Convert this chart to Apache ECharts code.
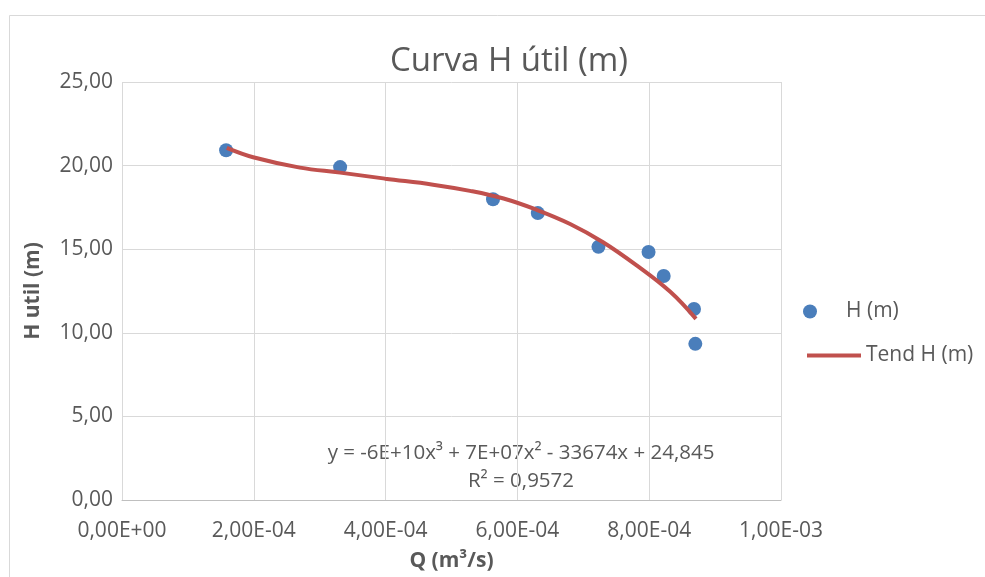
<!DOCTYPE html>
<html>
<head>
<meta charset="utf-8">
<script src="https://cdn.jsdelivr.net/npm/echarts@6/dist/echarts.min.js"></script>
<style>
  html, body { margin: 0; padding: 0; background: #ffffff; }
  #chart { width: 985px; height: 577px; }
</style>
</head>
<body>
<div id="chart"></div>
<script>
// Measured flow Q (m³/s) and useful head H (m)
const flowQ = [1.58e-4, 3.31e-4, 5.63e-4, 6.31e-4, 7.23e-4, 7.99e-4, 8.22e-4, 8.68e-4, 8.70e-4];
const headH = [20.92, 19.91, 17.99, 17.16, 15.14, 14.83, 13.40, 11.42, 9.34];

// Cubic trend line, sampled along the fitted curve
const trendQ = [1.59e-4, 1.99e-4, 2.70e-4, 3.31e-4, 3.99e-4, 4.72e-4, 5.28e-4, 5.79e-4, 6.29e-4, 6.80e-4, 7.30e-4, 7.81e-4, 8.32e-4, 8.71e-4];
const trendH = [21.06, 20.50, 19.88, 19.58, 19.22, 18.86, 18.49, 18.03, 17.36, 16.51, 15.42, 14.03, 12.45, 10.83];

// Axis tick labels
const xTickLabels = ['0,00E+00', '2,00E-04', '4,00E-04', '6,00E-04', '8,00E-04', '1,00E-03'];
const yTickLabels = ['0,00', '5,00', '10,00', '15,00', '20,00', '25,00'];

const equationText = 'y = -6E+10x³ + 7E+07x² - 33674x + 24,845';
const r2Text = 'R² = 0,9572';

const FONT = 'Open Sans';
const GREY = '#595959';

const pairs = (xs, ys) => xs.map((x, i) => [x, ys[i]]);

const chart = echarts.init(document.getElementById('chart'), null, { renderer: 'canvas' });
chart.setOption({
  backgroundColor: '#ffffff',
  animation: false,
  title: {
    text: 'Curva H útil (m)',
    left: 509,
    top: 45,
    textAlign: 'center',
    padding: 0,
    textStyle: { fontFamily: FONT, fontSize: 33, fontWeight: 'normal', color: GREY }
  },
  grid: { left: 122, right: 204, top: 82, bottom: 74, containLabel: false },
  xAxis: {
    type: 'value',
    min: 0,
    max: 0.001,
    interval: 0.0002,
    name: 'Q (m³/s)',
    nameLocation: 'middle',
    nameGap: 51,
    nameTextStyle: { fontFamily: FONT, fontSize: 21, fontWeight: 'bold', color: GREY },
    axisLine: { show: true, lineStyle: { color: '#bfbfbf', width: 1 } },
    axisTick: { show: false },
    axisLabel: {
      margin: 21,
      fontFamily: FONT, fontSize: 21, color: GREY,
      formatter: v => xTickLabels[Math.round(v / 0.0002)]
    },
    splitLine: { show: true, lineStyle: { color: '#d9d9d9', width: 1 } }
  },
  yAxis: {
    type: 'value',
    min: 0,
    max: 25,
    interval: 5,
    name: 'H util (m)',
    nameLocation: 'middle',
    nameGap: 78,
    nameTextStyle: { fontFamily: FONT, fontSize: 21, fontWeight: 'bold', color: GREY },
    axisLine: { show: false },
    axisTick: { show: false },
    axisLabel: {
      margin: 9,
      fontFamily: FONT, fontSize: 21, color: GREY,
      formatter: v => yTickLabels[Math.round(v / 5)]
    },
    splitLine: { show: true, lineStyle: { color: '#d9d9d9', width: 1 } }
  },
  legend: [
    {
      data: [{ name: 'H (m)', icon: 'circle' }],
      left: 803,
      top: 301,
      padding: 0,
      itemWidth: 62,
      itemHeight: 14,
      textStyle: { fontFamily: FONT, fontSize: 21, color: GREY }
    },
    {
      data: [{ name: 'Tend H (m)', icon: 'rect' }],
      left: 807,
      top: 345,
      padding: 0,
      itemWidth: 54,
      itemHeight: 4,
      textStyle: { fontFamily: FONT, fontSize: 21, color: GREY }
    }
  ],
  graphic: [
    {
      type: 'rect',
      silent: true,
      shape: { x: 9.5, y: 15.5, width: 1000, height: 600 },
      style: { fill: 'none', stroke: '#d9d9d9', lineWidth: 1 }
    },
    {
      type: 'text',
      x: 521, y: 453,
      style: { text: equationText, fontFamily: FONT, fontSize: 20.5, fill: GREY, align: 'center', verticalAlign: 'middle' }
    },
    {
      type: 'text',
      x: 521, y: 481,
      style: { text: r2Text, fontFamily: FONT, fontSize: 20.5, fill: GREY, align: 'center', verticalAlign: 'middle' }
    }
  ],
  series: [
    {
      name: 'Tend H (m)',
      type: 'line',
      data: pairs(trendQ, trendH),
      smooth: 0.4,
      symbol: 'none',
      lineStyle: { color: '#c0504d', width: 4 },
      itemStyle: { color: '#c0504d' },
      z: 3
    },
    {
      name: 'H (m)',
      type: 'scatter',
      data: pairs(flowQ, headH),
      symbol: 'circle',
      symbolSize: 14,
      itemStyle: { color: '#4a7ebb', opacity: 1 },
      z: 2
    }
  ]
});
</script>
</body>
</html>
